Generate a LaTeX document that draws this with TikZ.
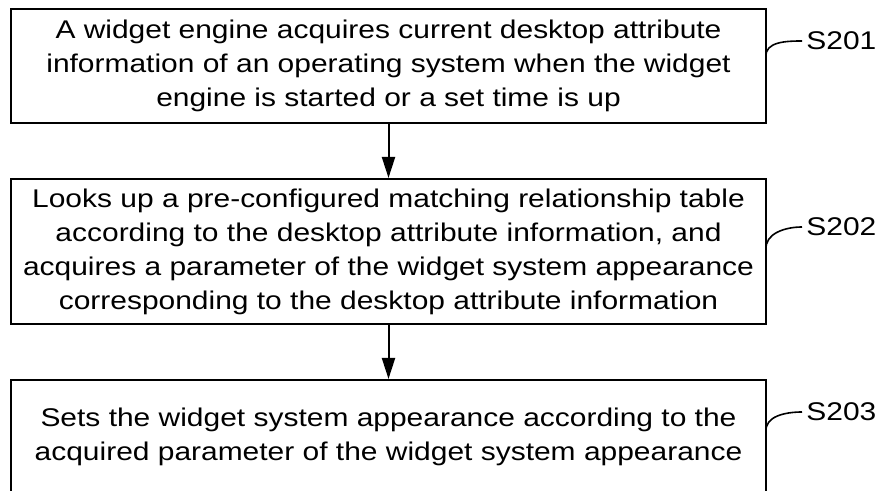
\documentclass[tikz,border=0pt]{standalone}
\usepackage{fontspec}
\setmainfont{Liberation Sans}[FakeStretch=1.17]
\usetikzlibrary{arrows.meta}

\begin{document}
\begin{tikzpicture}[x=0.5pt,y=-0.5pt]
\tikzstyle{stepbox}=[draw,line width=1pt,minimum width=377.5pt,inner sep=0pt,align=center,font=\fontsize{12.8pt}{17pt}\selectfont]
\tikzstyle{steplabel}=[anchor=west,inner sep=2pt,font=\fontsize{12.8pt}{17pt}\selectfont]
\tikzstyle{flow}=[line width=1pt,-{Triangle[length=10.5pt,width=6.5pt]}]
\useasboundingbox (0,0) rectangle (879,491);

\path (388.5,66) node[stepbox,minimum height=57pt](s1){A widget engine acquires current desktop attribute\\information of an operating system when the widget\\engine is started or a set time is up};
\path (388.5,251.5) node[stepbox,minimum height=72.5pt](s2){Looks up a pre-configured matching relationship table\\according to the desktop attribute information, and\\acquires a parameter of the widget system appearance\\corresponding to the desktop attribute information};
\path (388.5,437) node[stepbox,minimum height=57pt](s3){Sets the widget system appearance according to the\\acquired parameter of the widget system appearance};

\draw[flow] (s1) -- (s2);
\draw[flow] (s2) -- (s3);

\path (802,41) node[steplabel](l1){S201};
\path (802,227) node[steplabel](l2){S202};
\path (802,412) node[steplabel](l3){S203};

\coordinate (c1) at (766,57);
\coordinate (c2) at (766,250);
\coordinate (c3) at (766,432);
\draw[line width=0.8pt] (c1) to[out=95,in=180] (l1.west);
\draw[line width=0.8pt] (c2) to[out=95,in=180] (l2.west);
\draw[line width=0.8pt] (c3) to[out=95,in=180] (l3.west);
\end{tikzpicture}
\end{document}
